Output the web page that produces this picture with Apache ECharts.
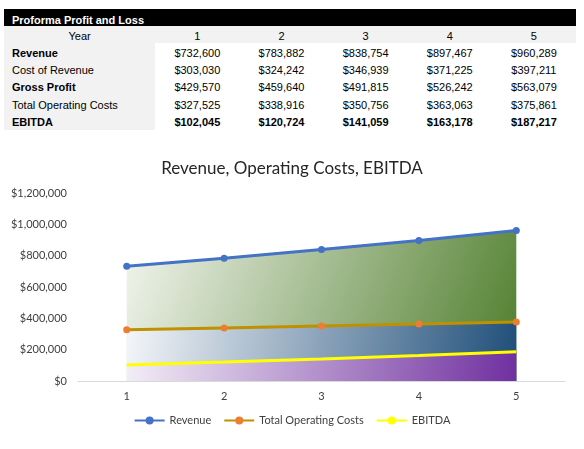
<!DOCTYPE html>
<html>
<head>
<meta charset="utf-8">
<script src="https://cdn.jsdelivr.net/npm/echarts@6.0.0/dist/echarts.min.js"></script>
<style>
  html, body { margin: 0; padding: 0; background: #fff; }
  body { width: 584px; height: 449px; position: relative; overflow: hidden; }
  #pl { position: absolute; left: 4px; top: 9px; width: 572px; border-collapse: collapse;
        font-family: "Liberation Sans", Arial, sans-serif; font-size: 11px; color: #000; }
  #pl td { height: 17.33px; padding: 0 0 2px 0; line-height: 12px; vertical-align: bottom; box-sizing: border-box; }
  #pl .head td { height: 17px; background: #000; color: #fff; font-weight: bold; padding: 0 0 0 8px; }
  #pl .year td { background: #f2f2f2; text-align: center; padding-bottom: 1px; }
  #pl td.lbl { background: #f2f2f2; width: 151px; padding-left: 8px; text-align: left; }
  #pl .year td.lbl { text-align: center; padding-left: 0; }
  #pl td.num { text-align: center; width: 84px; }
  #pl td.b { font-weight: bold; }
  #main { position: absolute; left: 0; top: 145px; width: 584px; height: 304px; }
</style>
</head>
<body>
<table id="pl"></table>
<div id="main"></div>
<script>
var years = ['1', '2', '3', '4', '5'];
var revenue = [732600, 783882, 838754, 897467, 960289];
var costOfRevenue = [303030, 324242, 346939, 371225, 397211];
var grossProfit = [429570, 459640, 491815, 526242, 563079];
var operatingCosts = [327525, 338916, 350756, 363063, 375861];
var ebitda = [102045, 120724, 141059, 163178, 187217];

function money(v) {
    return '$' + v.toLocaleString('en-US');
}

// table above the chart: [label, values, bold label, bold values]
var rows = [
    ['Revenue', revenue, true, false],
    ['Cost of Revenue', costOfRevenue, false, false],
    ['Gross Profit', grossProfit, true, false],
    ['Total Operating Costs', operatingCosts, false, false],
    ['EBITDA', ebitda, true, true]
];
var html = '<tr class="head"><td colspan="6">Proforma Profit and Loss</td></tr>';
html += '<tr class="year"><td class="lbl">Year</td>' +
    years.map(function (y) { return '<td class="num">' + y + '</td>'; }).join('') + '</tr>';
rows.forEach(function (r) {
    html += '<tr><td class="lbl' + (r[2] ? ' b' : '') + '">' + r[0] + '</td>' +
        r[1].map(function (v) {
            return '<td class="num' + (r[3] ? ' b' : '') + '">' + money(v) + '</td>';
        }).join('') + '</tr>';
});
document.getElementById('pl').innerHTML = html;

var chartDom = document.getElementById('main');
var myChart = echarts.init(chartDom);
var font = 'Lato, "Liberation Sans", sans-serif';

function grad(from, to) {
    return new echarts.graphic.LinearGradient(0, 0, 1, 1, [
        { offset: 0, color: from },
        { offset: 1, color: to }
    ]);
}

var option = {
    animation: false,
    title: {
        text: 'Revenue, Operating Costs, EBITDA',
        left: 'center',
        top: 10,
        textStyle: { fontFamily: font, fontSize: 17, fontWeight: 'normal', color: '#262626' }
    },
    legend: {
        bottom: 18,
        left: 'center',
        itemWidth: 30,
        itemHeight: 10,
        itemGap: 12,
        textStyle: { fontFamily: font, fontSize: 11, color: '#404040' },
        data: ['Revenue', 'Total Operating Costs', 'EBITDA']
    },
    grid: { left: 78, right: 19, top: 48, bottom: 68, containLabel: false },
    xAxis: {
        type: 'category',
        data: years,
        boundaryGap: true,
        axisLine: { lineStyle: { color: '#d9d9d9', width: 1 } },
        axisTick: { show: false },
        axisLabel: { fontFamily: font, fontSize: 11, color: '#404040', margin: 10 }
    },
    yAxis: {
        type: 'value',
        min: 0,
        max: 1200000,
        interval: 200000,
        axisLine: { show: false },
        axisTick: { show: false },
        splitLine: { show: false },
        axisLabel: { fontFamily: font, fontSize: 11, color: '#404040', margin: 11, formatter: money }
    },
    series: [
        {
            name: 'Revenue',
            type: 'line',
            data: revenue,
            symbol: 'circle',
            symbolSize: 7,
            itemStyle: { color: '#4472c4' },
            lineStyle: { color: '#4472c4', width: 3 },
            areaStyle: { color: grad('#f3f6ef', '#4e7d2b'), opacity: 1 }
        },
        {
            name: 'Total Operating Costs',
            type: 'line',
            data: operatingCosts,
            symbol: 'circle',
            symbolSize: 7,
            itemStyle: { color: '#ed7d31' },
            lineStyle: { color: '#bf9000', width: 3 },
            areaStyle: { color: grad('#f4f6f9', '#1f4e79'), opacity: 1 }
        },
        {
            name: 'EBITDA',
            type: 'line',
            data: ebitda,
            symbol: 'none',
            itemStyle: { color: '#ffff00' },
            lineStyle: { color: '#ffff00', width: 3 },
            areaStyle: { color: grad('#f3eef6', '#7030a0'), opacity: 1 }
        }
    ]
};

myChart.setOption(option);
</script>
</body>
</html>
